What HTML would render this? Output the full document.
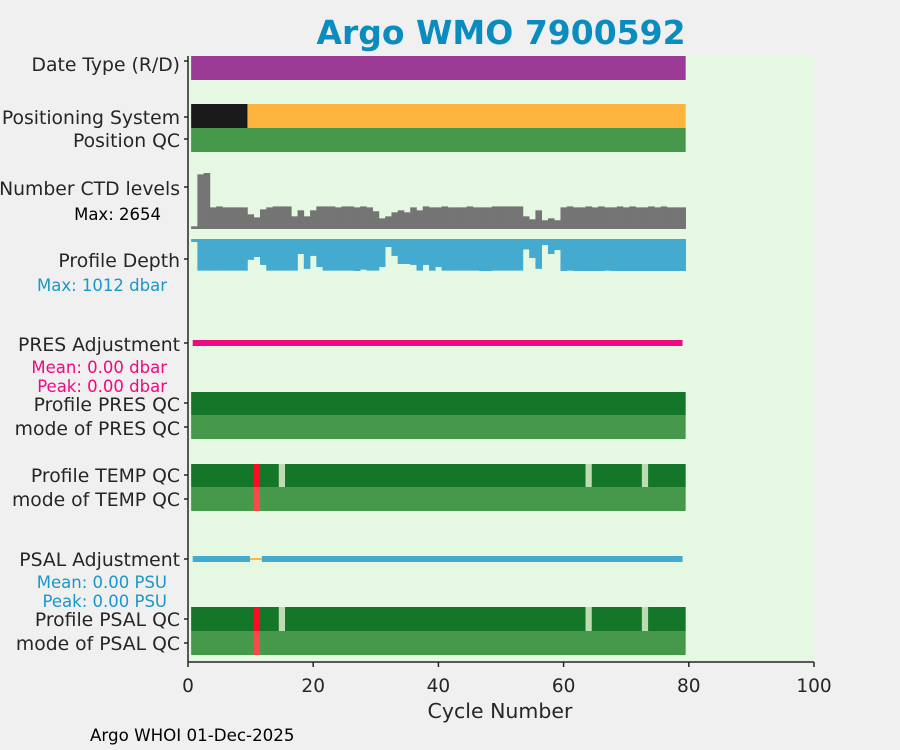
<!DOCTYPE html>
<html><head><meta charset="utf-8">
<style>
body{margin:0;background:#f0f0f0;}
svg{display:block;font-family:"DejaVu Sans","Liberation Sans",sans-serif;}
</style></head>
<body>
<svg id="chart" width="900" height="750" xmlns="http://www.w3.org/2000/svg">
<rect x="0" y="0" width="900" height="750" fill="#f0f0f0"/>
<rect x="188" y="56" width="626" height="606" fill="#e5f8e1"/>
<text x="501" y="44" font-size="33" font-weight="bold" fill="#0a8cbf" text-anchor="middle">Argo WMO 7900592</text>
<g id="marks"></g>
<g id="labels" font-size="18.8" fill="#262626" text-anchor="end">
<text x="180" y="71">Date Type (R/D)</text>
<text x="180" y="124">Positioning System</text>
<text x="180" y="147">Position QC</text>
<text x="180" y="195">Number CTD levels</text>
<text x="161" y="220" font-size="16.5" fill="#000">Max: 2654</text>
<text x="180" y="267">Profile Depth</text>
<text x="167" y="291" font-size="16.5" fill="#1a97c8">Max: 1012 dbar</text>
<text x="180" y="351">PRES Adjustment</text>
<text x="167" y="373" font-size="16.5" fill="#ee0a80">Mean: 0.00 dbar</text>
<text x="167" y="392" font-size="16.5" fill="#ee0a80">Peak: 0.00 dbar</text>
<text x="180" y="411">Profile PRES QC</text>
<text x="180" y="435">mode of PRES QC</text>
<text x="180" y="482">Profile TEMP QC</text>
<text x="180" y="506">mode of TEMP QC</text>
<text x="180" y="566">PSAL Adjustment</text>
<text x="167" y="588" font-size="16.5" fill="#1a97c8">Mean: 0.00 PSU</text>
<text x="167" y="607" font-size="16.5" fill="#1a97c8">Peak: 0.00 PSU</text>
<text x="180" y="626">Profile PSAL QC</text>
<text x="180" y="650">mode of PSAL QC</text>
</g>
<g id="axes"></g>
<text x="500" y="718" font-size="20.5" fill="#262626" text-anchor="middle">Cycle Number</text>
<text x="90" y="741" font-size="16.7" fill="#000">Argo WHOI 01-Dec-2025</text>
</svg>
<script>
const xTicks=[0,20,40,60,80,100];
const cycles=[];for(let i=1;i<=79;i++)cycles.push(i);
const ctdLevels=[130,2590,2654,1025,1070,1025,1025,1025,1025,695,550,930,1025,1070,1070,1070,600,885,600,885,1070,1070,1070,1025,1070,1070,1025,1070,1025,840,505,600,790,885,790,1025,885,1070,1025,1025,1070,1025,1025,1025,1070,1025,1025,1025,1070,1070,1070,1070,1070,600,460,885,415,505,415,1025,1070,1025,1025,1070,1025,1070,1025,1025,1070,1025,1070,1025,1025,1070,1025,1070,1025,1025,1025];
const profileDepth=[95,1000,1000,1000,1000,1000,1000,1000,1000,660,570,820,1000,1000,1000,1000,1000,475,945,535,885,1000,1000,1000,1000,1000,1012,970,1000,1000,885,255,535,790,790,820,1000,820,1000,885,1000,1000,1000,1000,1000,1000,1012,1012,1000,1000,1000,1000,1000,330,600,945,190,475,350,1012,1000,1012,1012,1012,1012,1012,1000,1012,1012,1012,1012,1012,1012,1012,1012,1012,1012,1012,1012];
const posSystemBlackUntil=9;
const badCycles=[11];
const missingCycles=[15,64,73];
const ctdMax=2654, depthMax=1012;

const NS="http://www.w3.org/2000/svg";
const X0=188,X1=814,XMIN=0,XMAX=100;
function xs(v){return X0+(v-XMIN)/(XMAX-XMIN)*(X1-X0);}
const g=document.getElementById('marks');
function rect(x,y,w,h,fill,name){const r=document.createElementNS(NS,'rect');r.setAttribute('x',x);r.setAttribute('y',y);r.setAttribute('width',w);r.setAttribute('height',h);r.setAttribute('fill',fill);


g.appendChild(r);return r;}
const first=cycles[0],last=cycles[cycles.length-1];
const L=xs(first-0.5),R=xs(last+0.5);
rect(L,56,R-L,24,'#9b3b96','date-type-bar');
rect(L,104,xs(posSystemBlackUntil+0.5)-L,24,'#1a1a1a','positioning-gps-bar');
rect(xs(posSystemBlackUntil+0.5),104,R-xs(posSystemBlackUntil+0.5),24,'#fdb53f','positioning-other-bar');
rect(L,128,R-L,24,'#46994a','position-qc-bar');
const ctdBase=229,ctdH=56,depTop=239,depH=32;
cycles.forEach((c,i)=>{const x=xs(c-0.5),w=xs(c+0.5)-x+0.3;
const h=ctdLevels[i]/ctdMax*ctdH;rect(x,ctdBase-h,w,h,'#747474','ctd-bar-'+c);
const d=profileDepth[i]/depthMax*depH;rect(x,depTop,w,d,'#44aacf','depth-bar-'+c);});
rect(xs(first-0.25),340,xs(last)-xs(first-0.25),6,'#ee0a80','pres-adjustment-line');
rect(L,392,R-L,23,'#137629','profile-pres-qc-bar');
rect(L,415,R-L,24,'#46994a','mode-pres-qc-bar');
function qcRows(y1,y2,pre){
 rect(L,y1,R-L,y2-y1,'#137629',pre+'-profile-qc-bar');
 rect(L,y2,R-L,24,'#46994a',pre+'-mode-qc-bar');
 badCycles.forEach(c=>{rect(xs(c-0.5),y1,xs(c+0.5)-xs(c-0.5),y2-y1,'#ff0a23',pre+'-bad-profile-'+c);
  rect(xs(c-0.5),y2,xs(c+0.5)-xs(c-0.5),24,'#f54a4a',pre+'-bad-mode-'+c);});
 missingCycles.forEach(c=>{rect(xs(c-0.5),y1,xs(c+0.5)-xs(c-0.5),y2-y1,'#bddcb2',pre+'-missing-'+c);});
}
qcRows(464,487,'temp');
rect(xs(first-0.25),556,xs(9.9)-xs(first-0.25),6,'#44aacf','psal-adjustment-line-a');
rect(xs(9.9),558,xs(11.8)-xs(9.9),2,'#fdb53f','psal-adjustment-missing');
rect(xs(11.8),556,xs(last)-xs(11.8),6,'#44aacf','psal-adjustment-line-b');
qcRows(607,631,'psal');
const ax=document.getElementById('axes');
function line(x1,y1,x2,y2,name){const l=document.createElementNS(NS,'line');l.setAttribute('x1',x1);l.setAttribute('y1',y1);l.setAttribute('x2',x2);l.setAttribute('y2',y2);l.setAttribute('stroke','#262626');l.setAttribute('stroke-width','1.5');


ax.appendChild(l);}
line(188,56,188,662,'y-axis-line');
line(188,662,814,662,'x-axis-line');
[61,117,139,187,259,343,403,427,475,499,559,619,643].forEach((y,i)=>line(184,y,188,y,'y-tick-'+i));
xTicks.forEach(v=>{line(xs(v),662,xs(v),667,'x-tick-'+v);
const t=document.createElementNS(NS,'text');t.setAttribute('x',xs(v));t.setAttribute('y',692);t.setAttribute('font-size','18.5');t.setAttribute('fill','#262626');t.setAttribute('text-anchor','middle');t.textContent=v;


ax.appendChild(t);});
</script>
</body></html>
